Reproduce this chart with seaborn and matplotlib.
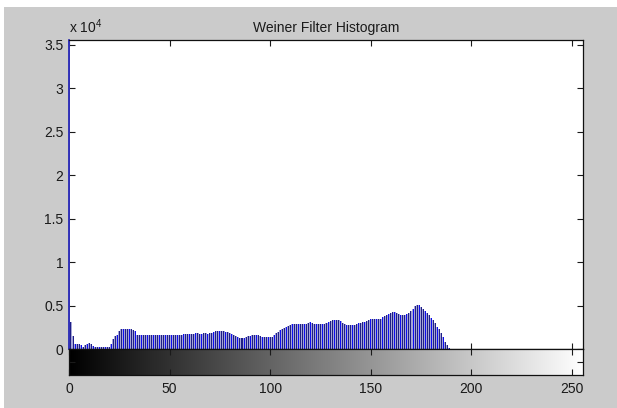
import matplotlib
matplotlib.use('Agg')
import matplotlib.pyplot as plt
from matplotlib.patches import Rectangle
import numpy as np
import pandas as pd
import seaborn as sns

title = 'Weiner Filter Histogram'
levels = np.arange(256)
counts = ([35570, 3100, 1500, 560, 520, 540, 480, 280, 420, 520,
           660, 620, 330, 240, 220, 250, 230, 220, 240, 230,
           260, 520, 1100, 1550, 1650, 2080, 2250, 2300, 2320, 2280,
           2300, 2250, 2200, 2080, 1650, 1600,
           1620, 1580, 1610, 1640, 1600, 1570, 1630, 1610, 1590, 1620, 1600,
           1600, 1580, 1620, 1640, 1610, 1590, 1650, 1630, 1620, 1660, 1680,
           1720, 1750, 1760, 1780, 1770, 1800, 1790, 1760, 1780, 1800, 1790, 1770, 1820,
           1880, 1950, 2020, 2060, 2080, 2100, 2050, 2000, 1930,
           1800, 1700, 1600, 1520, 1380, 1320, 1280, 1300, 1400, 1480, 1550,
           1600, 1620, 1590, 1560, 1500, 1420, 1380,
           1340, 1330, 1360, 1420,
           1600, 1800, 1990, 2180, 2350, 2450, 2550, 2700,
           2820, 2850, 2830, 2870, 2840, 2880, 2860, 2830, 2900, 2950,
           3070, 3000, 2920, 2860, 2840, 2870, 2850, 2880, 2950,
           3100, 3250, 3330, 3350, 3320, 3300, 3200,
           3000, 2850, 2780, 2740, 2720, 2760, 2800, 2850,
           2950, 3020, 3070, 3100,
           3250, 3380, 3450, 3430, 3460,
           3450, 3480, 3500, 3700,
           3850, 3920, 4050,
           4200, 4290, 4250,
           4100, 4000, 3920, 3900, 3950, 4050, 4150, 4400, 4650, 4900,
           5050, 5020, 4870, 4650, 4370, 4100, 3900, 3600, 3300, 2950,
           2550, 2250, 1850, 1350, 850, 420, 150]
          + [0] * 66)
x_ticks = [0, 50, 100, 150, 200, 250]
y_ticks = [0, 5000, 10000, 15000, 20000, 25000, 30000, 35000]
y_labels = ['0', '0.5', '1', '1.5', '2', '2.5', '3', '3.5']

sns.set_style('white')
plt.rcParams['font.family'] = ['Liberation Sans', 'DejaVu Sans']
plt.rcParams['mathtext.fontset'] = 'custom'
plt.rcParams['mathtext.rm'] = 'Liberation Sans'

fig = plt.figure(figsize=(6.17, 4.08), dpi=100, facecolor='#cbcbcb')
# white border strips at the top and left of the screenshot
fig.patches.append(Rectangle((0, 1 - 7 / 408), 1, 7 / 408, transform=fig.transFigure,
                             facecolor='white', edgecolor='none', zorder=0))
fig.patches.append(Rectangle((0, 0), 4 / 617, 1, transform=fig.transFigure,
                             facecolor='white', edgecolor='none', zorder=0))

ax = fig.add_axes([0.1118, 0.1446, 0.8331, 0.7574])
cb = fig.add_axes([0.1118, 0.0809, 0.8331, 0.0637])

df = pd.DataFrame({'level': levels, 'count': counts,
                   'shade': ['bright' if i % 3 == 0 else 'dark' for i in levels]})

# light fill between stems, then the stems themselves
sns.histplot(data=df, x='level', weights='count', discrete=True, shrink=1.0,
             color='#a4a4d6', alpha=1, linewidth=0, ax=ax)
sns.histplot(data=df, x='level', weights='count', hue='shade', discrete=True,
             shrink=0.5, palette={'bright': '#0c0cf0', 'dark': '#1e1e86'},
             alpha=1, linewidth=0, legend=False, multiple='layer', ax=ax)

ax.set_xlim(0, 255.5)
ax.set_ylim(0, max(counts))
ax.set_xlabel('')
ax.set_ylabel('')
ax.set_facecolor('white')
ax.set_xticks(x_ticks)
ax.set_xticklabels([])
ax.set_yticks(y_ticks)
ax.set_yticklabels(y_labels)
ax.tick_params(direction='in', length=4, width=0.8, top=True, right=True,
               bottom=True, left=True, labelsize=10, colors='#1a1a1a', pad=4)
for s in ax.spines.values():
    s.set_color('#111111')
    s.set_linewidth(0.9)
ax.spines['left'].set_color('#1a1ab4')
ax.spines['left'].set_linewidth(1.2)
ax.set_title(title, fontsize=10, color='#1a1a1a', pad=6)
ax.text(0, 1.012, r'x 10$^{4}$', transform=ax.transAxes, ha='left', va='bottom',
        fontsize=10, color='#1a1a1a')

# grey level bar under the histogram
cb.imshow(levels[None, :], cmap='gray', aspect='auto', extent=[0, 255.5, 0, 1],
          vmin=0, vmax=255)
cb.set_xlim(0, 255.5)
cb.set_ylim(0, 1)
cb.set_xticks(x_ticks)
cb.set_yticks([0.5])
cb.set_yticklabels([])
cb.tick_params(direction='in', length=4, width=0.8, top=True, bottom=True,
               left=True, right=True, labelsize=10, colors='#1a1a1a', pad=5)
for s in cb.spines.values():
    s.set_color('#111111')
    s.set_linewidth(0.9)

fig.savefig('out.png', dpi=100, facecolor=fig.get_facecolor())
